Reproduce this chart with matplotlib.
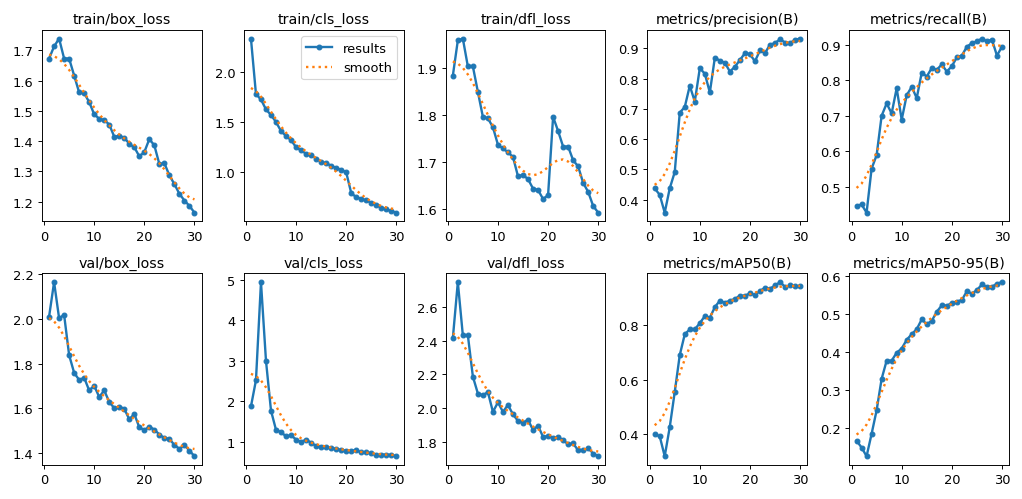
import numpy as np
import matplotlib
matplotlib.use("Agg")
import matplotlib.pyplot as plt

# epochs
epochs = np.arange(1, 31)

# values
train_box_loss = [1.673, 1.713, 1.739, 1.673, 1.673, 1.617, 1.561, 1.559, 1.529, 1.489,
                  1.474, 1.470, 1.455, 1.415, 1.417, 1.412, 1.391, 1.380, 1.350, 1.364,
                  1.407, 1.386, 1.324, 1.327, 1.287, 1.258, 1.226, 1.204, 1.186, 1.164]
train_cls_loss = [2.335, 1.780, 1.726, 1.626, 1.571, 1.500, 1.410, 1.361, 1.319, 1.248,
                  1.216, 1.184, 1.168, 1.135, 1.103, 1.087, 1.065, 1.039, 1.023, 0.997,
                  0.790, 0.748, 0.732, 0.716, 0.694, 0.668, 0.645, 0.626, 0.610, 0.594]
train_dfl_loss = [1.883, 1.958, 1.962, 1.903, 1.903, 1.849, 1.796, 1.793, 1.774, 1.737,
                  1.729, 1.721, 1.711, 1.670, 1.673, 1.664, 1.644, 1.641, 1.622, 1.630,
                  1.796, 1.766, 1.733, 1.733, 1.704, 1.691, 1.656, 1.637, 1.607, 1.593]
precision = [0.437, 0.416, 0.357, 0.437, 0.491, 0.687, 0.706, 0.776, 0.724, 0.834,
             0.816, 0.754, 0.869, 0.859, 0.852, 0.823, 0.839, 0.861, 0.884, 0.880,
             0.857, 0.893, 0.884, 0.912, 0.917, 0.930, 0.919, 0.917, 0.928, 0.932]
recall = [0.446, 0.450, 0.427, 0.551, 0.589, 0.700, 0.735, 0.707, 0.778, 0.689,
          0.758, 0.782, 0.750, 0.822, 0.811, 0.835, 0.830, 0.845, 0.825, 0.840,
          0.865, 0.870, 0.895, 0.905, 0.910, 0.918, 0.910, 0.915, 0.870, 0.895]
val_box_loss = [2.010, 2.164, 2.003, 2.018, 1.838, 1.759, 1.727, 1.737, 1.680, 1.701,
                1.651, 1.680, 1.629, 1.601, 1.608, 1.598, 1.551, 1.575, 1.515, 1.503,
                1.518, 1.505, 1.483, 1.467, 1.464, 1.436, 1.419, 1.436, 1.411, 1.386]
val_cls_loss = [1.873, 2.520, 4.944, 3.000, 1.770, 1.294, 1.238, 1.135, 1.159, 1.056,
                0.992, 1.056, 0.976, 0.897, 0.881, 0.873, 0.857, 0.817, 0.802, 0.778,
                0.778, 0.794, 0.738, 0.738, 0.714, 0.675, 0.683, 0.683, 0.675, 0.643]
val_dfl_loss = [2.413, 2.747, 2.432, 2.432, 2.187, 2.086, 2.076, 2.095, 1.977, 2.034,
                1.977, 2.019, 1.962, 1.924, 1.914, 1.930, 1.870, 1.895, 1.829, 1.834,
                1.825, 1.829, 1.810, 1.785, 1.790, 1.749, 1.749, 1.762, 1.730, 1.714]
map50 = [0.398, 0.391, 0.317, 0.424, 0.554, 0.690, 0.767, 0.785, 0.785, 0.808,
         0.834, 0.828, 0.867, 0.891, 0.883, 0.891, 0.897, 0.909, 0.909, 0.918,
         0.912, 0.927, 0.938, 0.935, 0.947, 0.959, 0.942, 0.947, 0.944, 0.944]
map50_95 = [0.167, 0.149, 0.126, 0.185, 0.247, 0.330, 0.378, 0.378, 0.399, 0.410,
            0.433, 0.448, 0.461, 0.487, 0.474, 0.483, 0.507, 0.524, 0.523, 0.530,
            0.534, 0.538, 0.561, 0.555, 0.564, 0.579, 0.573, 0.573, 0.581, 0.585]

titles = ["train/box_loss", "train/cls_loss", "train/dfl_loss", "metrics/precision(B)",
          "metrics/recall(B)", "val/box_loss", "val/cls_loss", "val/dfl_loss",
          "metrics/mAP50(B)", "metrics/mAP50-95(B)"]
series = [train_box_loss, train_cls_loss, train_dfl_loss, precision, recall,
          val_box_loss, val_cls_loss, val_dfl_loss, map50, map50_95]


# gaussian smoothing (sigma=3, reflect mode), same as the training plot
def smooth(y, sigma=3.0, truncate=4.0):
    y = np.asarray(y, dtype=float)
    r = int(truncate * sigma + 0.5)
    k = np.exp(-0.5 * (np.arange(-r, r + 1) / sigma) ** 2)
    k /= k.sum()
    yp = np.pad(y, r, mode="symmetric")
    return np.convolve(yp, k, mode="valid")


plt.rcParams["xtick.labelsize"] = 11
plt.rcParams["ytick.labelsize"] = 11

dpi = 1022 / 12
fig, ax = plt.subplots(2, 5, figsize=(12, 500 / dpi), dpi=dpi, tight_layout=True)
ax = ax.ravel()

for i, (t, y) in enumerate(zip(titles, series)):
    ax[i].plot(epochs, y, marker=".", label="results", linewidth=2, markersize=8)
    ax[i].plot(epochs, smooth(y), ":", label="smooth", linewidth=2)
    ax[i].set_title(t, fontsize=12)

ax[1].legend(fontsize=11)
fig.savefig("out.png", dpi=dpi)
